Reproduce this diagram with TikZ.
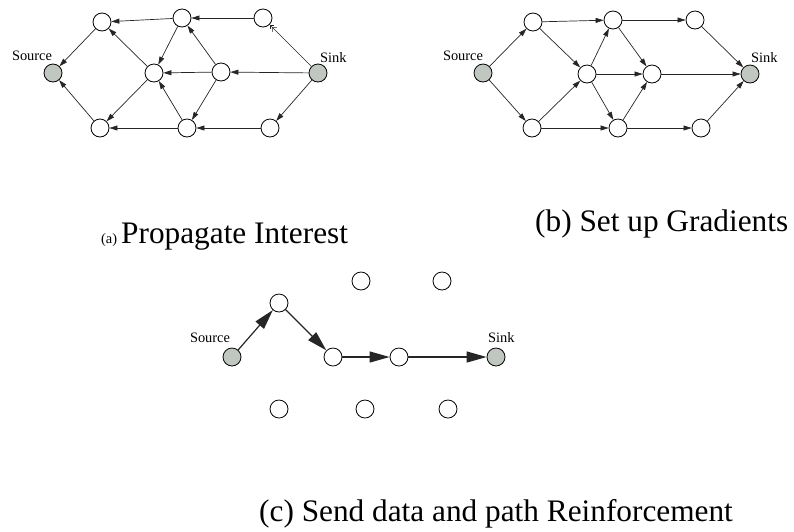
\documentclass[tikz,border=0pt]{standalone}
\usepackage{fontspec}
\setmainfont{Liberation Serif}
\usetikzlibrary{arrows.meta}
\definecolor{sgray}{RGB}{192,199,192}
\begin{document}
\begin{tikzpicture}[x=1pt,y=-1pt,
 nd/.style={circle,draw=black,fill=white,line width=0.8pt,minimum size=18pt,inner sep=0pt},
 snd/.style={nd,fill=sgray},
 ed/.style={draw=black!85,line width=0.7pt,-{Triangle[length=8pt,width=5pt]}},
 bared/.style={draw=black!85,line width=0.6pt,-{Straight Barb[length=3pt,width=6pt]Straight Barb[length=3pt,width=6pt]}},
 bed/.style={draw=black!85,line width=1.2pt,-{Triangle[length=20pt,width=11pt]}},
 lbl/.style={font=\fontsize{14.4}{15}\selectfont,inner sep=0pt,anchor=base},
 captxt/.style={font=\fontsize{31.3}{31}\selectfont,inner sep=0pt,anchor=base west}]
\useasboundingbox (0,0) rectangle (794,531);
% ---------- (a) ----------
\node[snd] (aS) at (53,73) {};
\node[nd] (a1) at (102,22) {};
\node[nd] (a2) at (182,18) {};
\node[nd] (a3) at (263,18) {};
\node[nd] (a4) at (154,73) {};
\node[nd] (a5) at (221,72) {};
\node[snd] (aK) at (318,73) {};
\node[nd] (a6) at (100,128) {};
\node[nd] (a7) at (187,128) {};
\node[nd] (a8) at (270,128) {};
\node[lbl] (aSl) at (32,60) {Source};
\node[lbl,anchor=base west] (aKl) at (320,62) {Sink};
\draw[ed] (a1) -- (aS);
\draw[ed] (a6) -- (aS);
\draw[ed] (a2) -- (a1);
\draw[ed] (a4) -- (a1);
\draw[ed] (a3) -- (a2);
\draw[ed] (a2) -- (a4);
\draw[ed] (a5) -- (a2);
\draw[ed] (a5) -- (a4);
\draw[ed] (aK) -- (a5);
\draw[bared] (aK) -- (a3);
\draw[ed] (a4) -- (a6);
\draw[ed] (a7) -- (a4);
\draw[ed] (a5) -- (a7);
\draw[ed] (a7) -- (a6);
\draw[ed] (a8) -- (a7);
\draw[ed] (aK) -- (a8);
% ---------- (b) ----------
\node[snd] (bS) at (483,73) {};
\node[nd] (b1) at (533,22) {};
\node[nd] (b2) at (613,20) {};
\node[nd] (b3) at (695,20) {};
\node[nd] (b4) at (587,74) {};
\node[nd] (b5) at (652,74) {};
\node[snd] (bK) at (750,74) {};
\node[nd] (b6) at (532,128) {};
\node[nd] (b7) at (618,128) {};
\node[nd] (b8) at (701,128) {};
\node[lbl] (bSl) at (463,60) {Source};
\node[lbl,anchor=base west] (bKl) at (751,62) {Sink};
\draw[ed] (bS) -- (b1);
\draw[ed] (bS) -- (b6);
\draw[ed] (b1) -- (b2);
\draw[ed] (b1) -- (b4);
\draw[ed] (b6) -- (b4);
\draw[ed] (b6) -- (b7);
\draw[ed] (b4) -- (b2);
\draw[ed] (b4) -- (b5);
\draw[ed] (b4) -- (b7);
\draw[ed] (b2) -- (b3);
\draw[ed] (b2) -- (b5);
\draw[ed] (b7) -- (b5);
\draw[ed] (b7) -- (b8);
\draw[ed] (b3) -- (bK);
\draw[ed] (b5) -- (bK);
\draw[ed] (b8) -- (bK);
% ---------- (c) ----------
\node[snd] (cS) at (232,357) {};
\node[nd] (c1) at (279,303) {};
\node[nd] (c2) at (333,357) {};
\node[nd] (c3) at (399,357) {};
\node[snd] (cK) at (496,357) {};
\node[nd] (t1) at (361,281) {};
\node[nd] (t2) at (442,281) {};
\node[nd] (d1) at (279,409) {};
\node[nd] (d2) at (365,409) {};
\node[nd] (d3) at (448,409) {};
\node[lbl] (cSl) at (210,342) {Source};
\node[lbl,anchor=base west] (cKl) at (488,342) {Sink};
\draw[bed] (cS) -- (c1);
\draw[bed] (c1) -- (c2);
\draw[bed] (c2) -- (c3);
\draw[bed] (c3) -- (cK);
% ---------- captions ----------
\node[captxt,font=\fontsize{14.4}{15}\selectfont] (capa0) at (101,243) {(a)};
\node[captxt] (capa) at (121,243) {Propagate Interest};
\node[captxt] (capb) at (535,231) {(b) Set up Gradients};
\node[captxt] (capc) at (259,521) {(c) Send data and path Reinforcement};
\end{tikzpicture}
\end{document}
